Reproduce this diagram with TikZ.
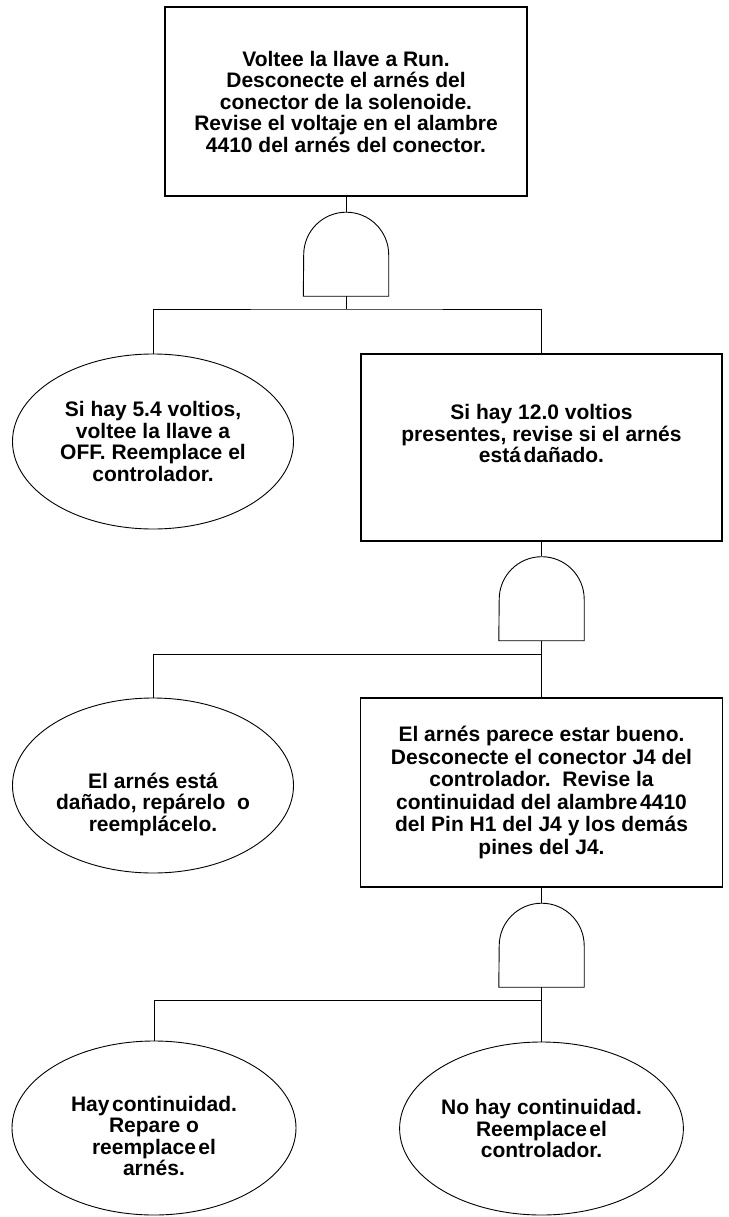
\documentclass[tikz,border=0pt]{standalone}
\usepackage{fontspec}
\setmainfont{Liberation Sans}
\usetikzlibrary{shapes.geometric}
\newcommand\lift[1]{\rule{0pt}{#1}}
\newcommand\sink[1]{\rule[-#1]{0pt}{#1}}
\newcommand\tsp{\hspace{2.5pt}}
\newcommand\drawgate[1]{\draw[gateline] (#1.south west) -- (#1.south east) -- ([yshift=41.5pt]#1.south east) arc[start angle=0,end angle=180,radius=42.5pt] -- cycle;}
\begin{document}
\begin{tikzpicture}[x=1pt,y=1pt,
  txt/.style={font=\fontsize{21}{21.5}\selectfont\bfseries, align=center, inner sep=0pt, text=black},
  box/.style={txt, draw, rectangle, line width=1.1pt},
  oval/.style={txt, draw, ellipse, line width=0.9pt, minimum width=281pt, minimum height=175pt},
  gatebox/.style={inner sep=0pt, minimum width=85pt, minimum height=84pt},
  gateline/.style={line width=0.9pt},
  wire/.style={line width=1pt}]
\useasboundingbox (0,0) rectangle (728,-1217);
% boxes
\node[box, minimum width=362pt, minimum height=189pt] (top) at (346,-101.5)
  {Voltee la llave a Run.\\Desconecte el arnés del\\conector de la solenoide.\\Revise el voltaje en el alambre\\4410 del arnés del conector.};
\node[box, minimum width=361pt, minimum height=187pt] (box2) at (541.5,-447.5)
  {Si hay 12.0 voltios\\presentes, revise si el arnés\\está\tsp dañado.\sink{28pt}};
\node[box, minimum width=362pt, minimum height=189pt, font=\fontsize{21}{22.5}\selectfont\bfseries] (box3) at (541.5,-792.5)
  {El arnés parece estar bueno.\\Desconecte el conector J4 del\\controlador.\ \ Revise la\\continuidad del alambre\tsp 4410\\del Pin H1 del J4 y los demás\\pines del J4.};
% gates
\node[gatebox] (g1) at (346,-254) {};
\node[gatebox] (g2) at (541.5,-598.5) {};
\node[gatebox] (g3) at (541.5,-945) {};
\drawgate{g1}
\drawgate{g2}
\drawgate{g3}
% ellipses
\node[oval] (e1) at (153,-441.5)
  {Si hay 5.4 voltios,\\voltee la llave a\\OFF. Reemplace el\\controlador.};
\node[oval] (e2) at (153,-785.5)
  {\lift{53pt}El arnés está\\dañado, repárelo\ \ o\\reemplácelo.};
\node[oval, minimum width=284pt, minimum height=174pt] (e3) at (154,-1128)
  {\lift{31pt}Hay\tsp continuidad.\\Repare o\\reemplace\tsp el\\arnés.};
\node[oval, minimum width=283pt, minimum height=173pt] (e4) at (541.5,-1128.5)
  {No hay continuidad.\\Reemplace\tsp el\\controlador.};
% bus points
\coordinate (b1) at (346,-309);
\coordinate (b2) at (541.5,-654);
\coordinate (b3) at (541.5,-1000);
% connectors
\draw[wire] (top.south) -- (g1.north);
\draw[wire] (g1.south) -- (b1);
\draw[wire] (e1.north) |- (b1) -| (box2.north);
\draw[wire] (box2.south) -- (g2.north);
\draw[wire] (g2.south) -- (box3.north);
\draw[wire] (b2) -| (e2.north);
\draw[wire] (box3.south) -- (g3.north);
\draw[wire] (g3.south) -- (e4.north);
\draw[wire] (b3) -| (e3.north);
\end{tikzpicture}
\end{document}
